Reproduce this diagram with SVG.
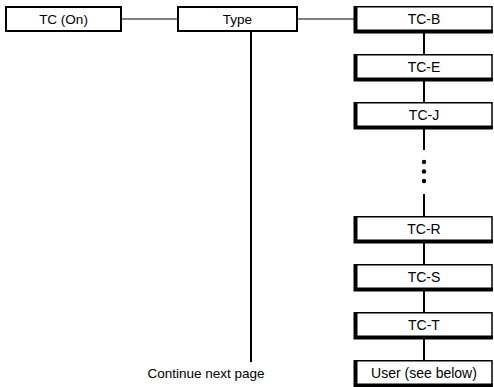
<svg xmlns="http://www.w3.org/2000/svg" width="494" height="387" viewBox="0 0 494 387">
<style>
.box{fill:#fff;stroke:#000;stroke-width:2}
.rb{fill:#fff;stroke:#000;stroke-width:1.5}
.sh{fill:none;stroke:#000;stroke-width:4}
.t{font-family:"Liberation Sans",Arial,sans-serif;font-size:13.5px;fill:#000;text-anchor:middle}
.tr{font-size:14px}
.c{stroke:#000;fill:none}
</style>
<g id="connectors">
<line class="c" x1="121" y1="19" x2="178" y2="19" stroke-width="1"/>
<line class="c" x1="297" y1="19" x2="354" y2="19" stroke-width="1"/>
<line class="c" x1="251" y1="31" x2="251" y2="362" stroke-width="2"/>
<line class="c" x1="424" y1="32" x2="424" y2="150" stroke-width="2"/>
<line class="c" x1="424" y1="194" x2="424" y2="362" stroke-width="2"/>
<circle cx="424" cy="162" r="2.2" fill="#000"/>
<circle cx="424" cy="171.5" r="2.2" fill="#000"/>
<circle cx="424" cy="181" r="2.2" fill="#000"/>
</g>
<g id="n-tcon"><rect class="box" x="6" y="7" width="115" height="24"/><text class="t" x="63.5" y="24">TC (On)</text></g>
<g id="n-type"><rect class="box" x="178" y="7" width="119" height="24"/><text class="t" x="237.5" y="24">Type</text></g>
<g id="n-tcb" transform="translate(0,6)"><rect class="rb" x="355" y="0.75" width="137" height="25.5"/><path class="sh" d="M355.5,0 V25.5 H492.75"/><text class="t tr" x="424" y="18">TC-B</text></g>
<g id="n-tce" transform="translate(0,54)"><rect class="rb" x="355" y="0.75" width="137" height="25.5"/><path class="sh" d="M355.5,0 V25.5 H492.75"/><text class="t tr" x="424" y="18">TC-E</text></g>
<g id="n-tcj" transform="translate(0,102)"><rect class="rb" x="355" y="0.75" width="137" height="25.5"/><path class="sh" d="M355.5,0 V25.5 H492.75"/><text class="t tr" x="424" y="18">TC-J</text></g>
<g id="n-tcr" transform="translate(0,216)"><rect class="rb" x="355" y="0.75" width="137" height="25.5"/><path class="sh" d="M355.5,0 V25.5 H492.75"/><text class="t tr" x="424" y="18">TC-R</text></g>
<g id="n-tcs" transform="translate(0,264)"><rect class="rb" x="355" y="0.75" width="137" height="25.5"/><path class="sh" d="M355.5,0 V25.5 H492.75"/><text class="t tr" x="424" y="18">TC-S</text></g>
<g id="n-tct" transform="translate(0,312)"><rect class="rb" x="355" y="0.75" width="137" height="25.5"/><path class="sh" d="M355.5,0 V25.5 H492.75"/><text class="t tr" x="424" y="18">TC-T</text></g>
<g id="n-user" transform="translate(0,360)"><rect class="rb" x="355" y="0.75" width="137" height="25.5"/><path class="sh" d="M355.5,0 V25.5 H492.75"/><text class="t tr" x="424" y="18">User (see below)</text></g>
<g id="label-continue"><text class="t" x="206" y="378">Continue next page</text></g>
</svg>
